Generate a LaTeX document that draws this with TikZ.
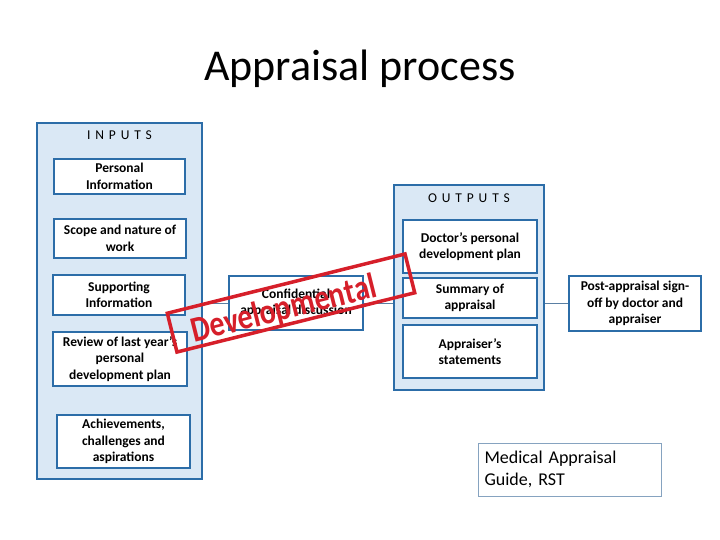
\documentclass[tikz,border=0pt]{standalone}
\usepackage{fontspec}
\setmainfont{Carlito}
\usepackage{tikz}
\usetikzlibrary{positioning, calc}
\definecolor{frame}{HTML}{2C6DA8}
\definecolor{panel}{HTML}{DAE8F5}
\definecolor{wire}{HTML}{5A7FA3}
\definecolor{guideline}{HTML}{86A3C0}
\definecolor{stampred}{HTML}{D61F2A}
\newcommand{\ls}{\hspace{0.36em}}

\begin{document}
\begin{tikzpicture}[
    x=1pt, y=-1pt,
    every node/.style={font=\fontsize{13.5}{16.5}\selectfont\bfseries, align=center, inner sep=0pt},
    panelbox/.style={
      draw=frame, fill=panel, line width=2pt
    },
    item/.style={
      draw=frame, fill=white, line width=2pt,
      minimum width=132pt, minimum height=40pt
    },
    link/.style={draw=wire, line width=0.8pt},
    stamp/.style={
      draw=stampred, line width=3.5pt,
      minimum width=245pt, minimum height=40pt
    },
    stamptext/.style={
      text=stampred, font=\fontsize{30}{30}\selectfont\bfseries
    }
]
  \useasboundingbox (0,0) rectangle (720,540);

  \node[font=\fontsize{44}{44}\selectfont, anchor=base] (title) at (360,81) {Appraisal process};

  % inputs column
  \node[panelbox, minimum width=165pt, minimum height=356pt] (inputs) at (119.5,301) {};
  \node[font=\fontsize{13.5}{13.5}\selectfont] (inlabel) at (119.5,135) {I\ls N\ls P\ls U\ls T\ls S};
  \node[item, minimum width=131pt, minimum height=35pt] (personal) at (119.5,176.5) {Personal\\Information};
  \node[item, minimum height=39pt] (scope) at (120,238.5) {Scope and nature of\\work};
  \node[item] (support) at (119,295) {Supporting\\Information};
  \node[item, minimum width=134pt, minimum height=54pt] (review) at (120,359) {Review of last year's\\personal\\development plan};
  \node[item, minimum width=133pt, minimum height=53pt] (achieve) at (123.5,441.5) {Achievements,\\challenges and\\aspirations};

  % discussion
  \node[item, minimum width=134pt, minimum height=54pt] (conf) at (296,303) {Confidential\\appraisal discussion};

  % outputs column
  \node[panelbox, minimum width=150pt, minimum height=205pt] (outputs) at (469,287.5) {};
  \node[font=\fontsize{13.5}{13.5}\selectfont] (outlabel) at (469,198) {O\ls U\ls T\ls P\ls U\ls T\ls S};
  \node[item, minimum width=134pt, minimum height=53pt] (pdp) at (470,246.5) {Doctor's personal\\development plan};
  \node[item, minimum width=134pt] (summary) at (470,298) {Summary of\\appraisal};
  \node[item, minimum width=134pt, minimum height=53pt] (statements) at (470,351.5) {Appraiser's\\statements};

  \node[item, minimum width=132pt, minimum height=55pt] (signoff) at (635,303.5) {Post-appraisal sign-\\off by doctor and\\appraiser};

  \node[draw=guideline, line width=1pt, minimum width=183pt, minimum height=53pt,
        font=\fontsize{18}{22}\selectfont, align=left, text width=170pt] (guide) at (569.5,469.5) {Medical Appraisal\\Guide, RST};

  \draw[link] (inputs.east |- conf.west) -- (conf.west);
  \draw[link] (conf.east) -- (outputs.west |- conf.east);
  \draw[link] (outputs.east |- signoff.west) -- (signoff.west);

  % stamp over the middle
  \node[stamp, rotate=14] (devframe) at (291,303) {};
  \node[stamptext, rotate=14, yscale=1.2] (devword) at (284,310) {Developmental};
\end{tikzpicture}
\end{document}
